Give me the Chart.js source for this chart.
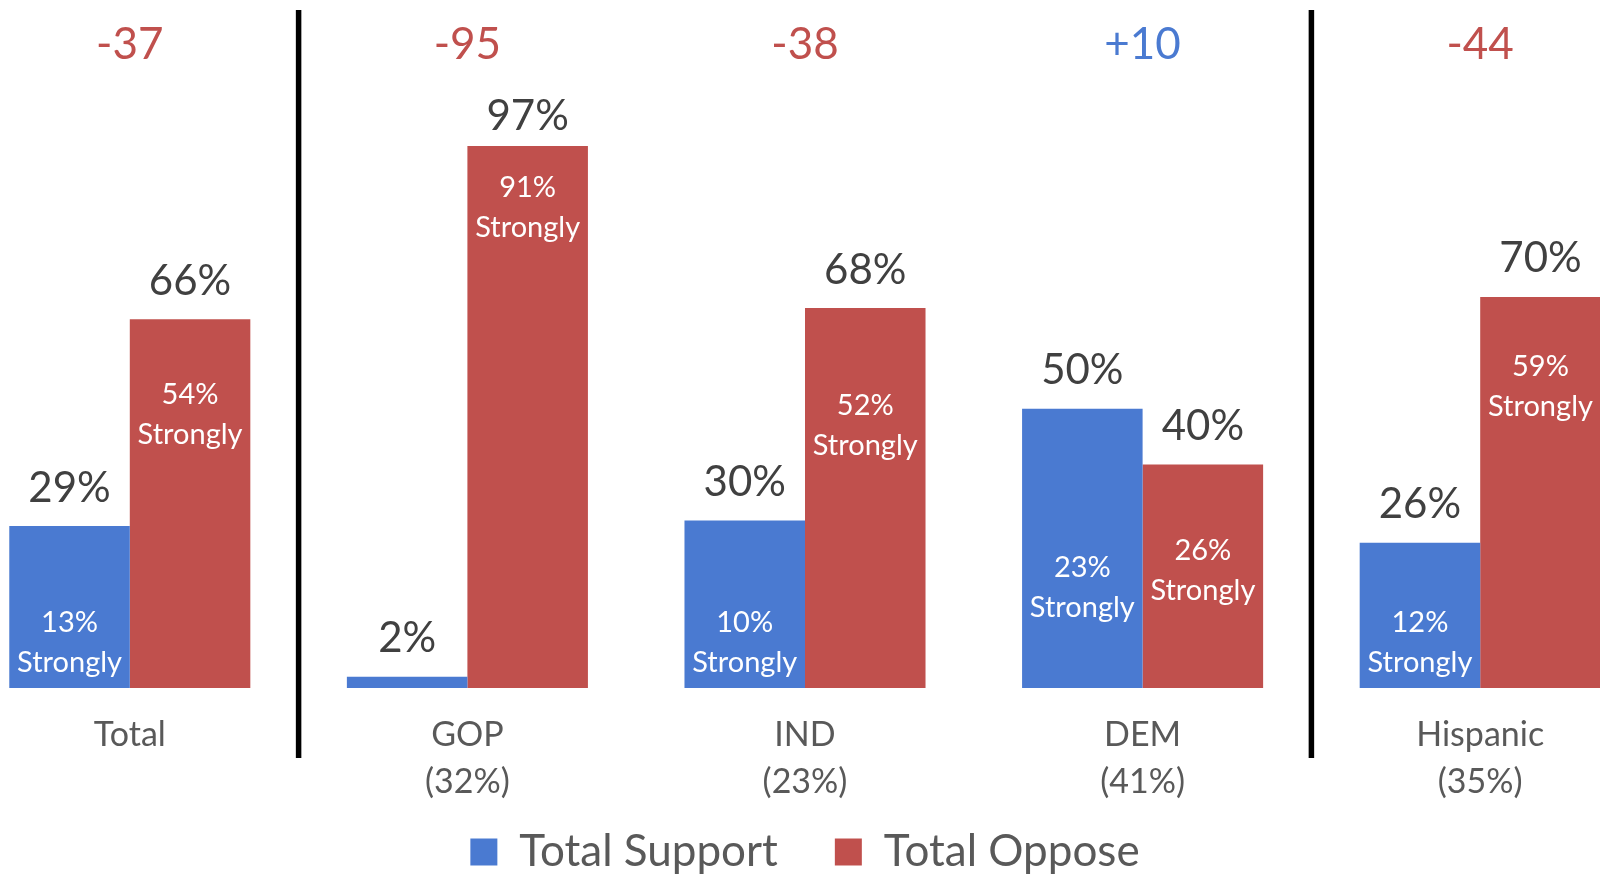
<!DOCTYPE html>
<html>
<head>
<meta charset="utf-8">
<script src="https://cdn.jsdelivr.net/npm/chart.js@4.4.1/dist/chart.umd.min.js"></script>
<style>
  html, body { margin: 0; padding: 0; background: #ffffff; overflow: hidden; width: 1600px; height: 874px; }
  #wrap { position: absolute; left: -39px; top: 0; width: 1688px; height: 884px; }
</style>
</head>
<body>
<div id="wrap"><canvas id="c"></canvas></div>
<script>
// ---- data ----
const categories = [["Total"], ["GOP", "(32%)"], ["IND", "(23%)"], ["DEM", "(41%)"], ["Hispanic", "(35%)"]];
const seriesNames = ["Total Support", "Total Oppose"];
const totalSupport = [29, 2, 30, 50, 26];
const totalOppose = [66, 97, 68, 40, 70];
const strongSupport = [13, null, 10, 23, 12];
const strongOppose = [54, 91, 52, 26, 59];
const groupBreaks = [1, 4]; // divider drawn before these category indices

const BLUE = "#4A7AD1";
const RED = "#C0504D";
const FONT = "Lato, 'Open Sans', sans-serif";

const labelPlugin = {
  id: "labelPlugin",
  afterDatasetsDraw(chart) {
    const ctx = chart.ctx;
    const xs = chart.scales.x;
    const ys = chart.scales.y;
    const area = chart.chartArea;
    const strong = [strongSupport, strongOppose];
    ctx.save();
    ctx.textAlign = "center";
    ctx.textBaseline = "middle";
    // divider lines
    ctx.strokeStyle = "#000000";
    ctx.lineWidth = 5.5;
    groupBreaks.forEach(i => {
      const bx = (xs.getPixelForTick(i - 1) + xs.getPixelForTick(i)) / 2;
      ctx.beginPath();
      ctx.moveTo(bx, area.top - 2);
      ctx.lineTo(bx, area.bottom + 70);
      ctx.stroke();
    });
    // bar labels
    chart.data.datasets.forEach((ds, di) => {
      const meta = chart.getDatasetMeta(di);
      meta.data.forEach((bar, i) => {
        const v = ds.data[i];
        ctx.fillStyle = "#404040";
        ctx.font = "42px " + FONT;
        ctx.fillText(v + "%", bar.x, Math.max(bar.y - 38, area.top + 104));
        const s = strong[di][i];
        if (s !== null && s !== undefined) {
          let cy = ys.getPixelForValue(s) + 28;
          cy = Math.min(cy, area.bottom - 45);
          ctx.fillStyle = "#ffffff";
          ctx.font = "29px " + FONT;
          ctx.fillText(s + "%", bar.x, cy - 20);
          ctx.fillText("Strongly", bar.x, cy + 20);
        }
      });
    });
    // net difference labels
    ctx.font = "44px " + FONT;
    categories.forEach((c, i) => {
      const d = totalSupport[i] - totalOppose[i];
      ctx.fillStyle = d < 0 ? RED : BLUE;
      const txt = d > 0 ? "+" + d : String(d);
      ctx.fillText(txt, xs.getPixelForTick(i), area.top + 33);
    });
    ctx.restore();
  }
};

new Chart(document.getElementById("c"), {
  type: "bar",
  data: {
    labels: categories,
    datasets: [
      { label: seriesNames[0], data: totalSupport, backgroundColor: BLUE, borderWidth: 0 },
      { label: seriesNames[1], data: totalOppose, backgroundColor: RED, borderWidth: 0 }
    ]
  },
  options: {
    responsive: true,
    maintainAspectRatio: false,
    animation: false,
    layout: { padding: { top: 12, left: 0, right: 0, bottom: 0 } },
    datasets: { bar: { categoryPercentage: 0.714, barPercentage: 1.0 } },
    scales: {
      x: {
        offset: true,
        grid: { display: false, drawTicks: false },
        border: { display: false },
        ticks: {
          mirror: true,
          padding: -71,
          color: "#595959",
          font: { family: FONT, size: 34, lineHeight: "47px" },
          maxRotation: 0,
          autoSkip: false
        },
        afterFit(scale) { scale.height = 85; }
      },
      y: {
        display: false,
        min: 0,
        max: 121
      }
    },
    plugins: {
      tooltip: { enabled: false },
      legend: {
        display: true,
        position: "bottom",
        labels: {
          boxWidth: 27,
          boxHeight: 27,
          padding: 57,
          color: "#595959",
          font: { family: FONT, size: 44 }
        }
      }
    }
  },
  plugins: [labelPlugin]
});
</script>
</body>
</html>
